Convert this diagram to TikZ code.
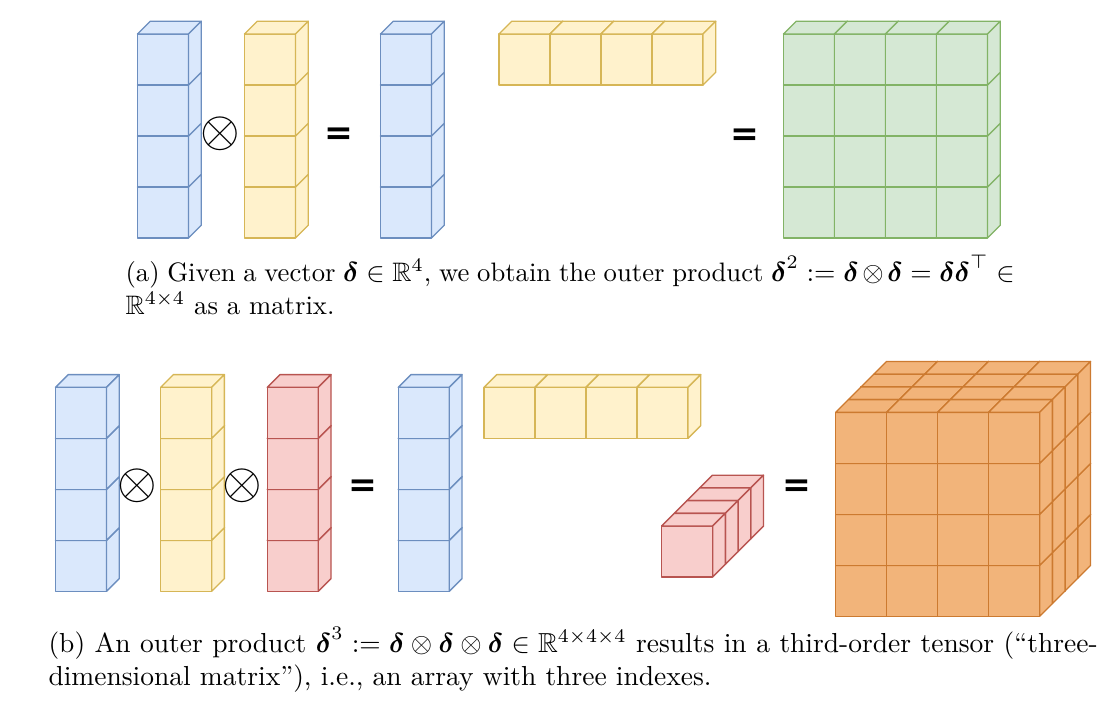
\documentclass[tikz,border=0pt]{standalone}
\usepackage{amsmath,amssymb,amsfonts}
\usepackage{fontspec}
\usepackage{xcolor}
\usepackage{graphicx}
\usepackage{tikz}

\newfontfamily\signfont{DejaVu Sans}

\definecolor{bluefill}{HTML}{DAE8FC}
\definecolor{blueline}{HTML}{6C8EBF}
\definecolor{yellowfill}{HTML}{FFF2CC}
\definecolor{yellowline}{HTML}{D6B656}
\definecolor{greenfill}{HTML}{D5E8D4}
\definecolor{greenline}{HTML}{82B366}
\definecolor{redfill}{HTML}{F8CECC}
\definecolor{redline}{HTML}{B85450}
\definecolor{orangefill}{HTML}{F2B47A}
\definecolor{orangeline}{HTML}{CC7A30}

\newcommand{\cellw}{51}
\newcommand{\celld}{12.7}
% one cube, front top-left corner at (#1,#2)
\newcommand{\onecube}[3]{%
  \filldraw[#3] (#1,#2) rectangle ++(\cellw,\cellw);
  \filldraw[#3] (#1,#2) -- ++(\celld,-\celld) -- ++(\cellw,0) -- ++(-\celld,\celld) -- cycle;
  \filldraw[#3] (#1+\cellw,#2) -- ++(\celld,-\celld) -- ++(0,\cellw) -- ++(-\celld,\celld) -- cycle;
}

\tikzset{
  bluecube/.style={fill=bluefill, draw=blueline, line width=0.5pt, line join=round},
  yellowcube/.style={fill=yellowfill, draw=yellowline, line width=0.5pt, line join=round},
  greencube/.style={fill=greenfill, draw=greenline, line width=0.5pt, line join=round},
  redcube/.style={fill=redfill, draw=redline, line width=0.5pt, line join=round},
  orangecube/.style={fill=orangefill, draw=orangeline, line width=0.5pt, line join=round},
  opsign/.style={inner sep=0pt},
  eqsign/.style={inner sep=0pt, font=\signfont\bfseries\fontsize{12.5}{12.5}\selectfont},
  captext/.style={inner sep=0pt, anchor=base west, align=justify}
}

\begin{document}
\begin{tikzpicture}[x=0.3636pt, y=-0.3636pt]
    \useasboundingbox (0,0) rectangle (1114,712);

    % (a) delta (x) delta = matrix
    \foreach \j in {3,2,1,0} {\onecube{137.5}{34+\j*\cellw}{bluecube}}
    \node[opsign] (timesA) at (220.7,134) {\scalebox{1.85}{$\otimes$}};
    \foreach \j in {3,2,1,0} {\onecube{244.5}{34+\j*\cellw}{yellowcube}}
    \node[eqsign] (eqA1) at (338.5,136) {=};
    \foreach \j in {3,2,1,0} {\onecube{380.5}{34+\j*\cellw}{bluecube}}
    \foreach \i in {0,1,2,3} {\onecube{499+\i*\cellw}{34}{yellowcube}}
    \node[eqsign] (eqA2) at (744.5,137) {=};
    \foreach \j in {3,2,1,0} {
        \foreach \i in {0,1,2,3} {\onecube{783.5+\i*\cellw}{34+\j*\cellw}{greencube}}
    }
    \node[captext, text width=323.3pt, font=\fontsize{9.7}{12}\selectfont] (capA) at (125,281)
        {(a) Given a vector $\boldsymbol{\delta}\in\mathbb{R}^4$, we obtain the outer product
        $\boldsymbol{\delta}^2 := \boldsymbol{\delta}\otimes\boldsymbol{\delta}
        = \boldsymbol{\delta}\boldsymbol{\delta}^\top \in$\linebreak
        $\mathbb{R}^{4\times4}$ as a matrix.};

    % (b) delta (x) delta (x) delta = tensor
    \foreach \j in {3,2,1,0} {\onecube{55.5}{387.3+\j*\cellw}{bluecube}}
    \node[opsign] (timesB1) at (137.7,486) {\scalebox{1.85}{$\otimes$}};
    \foreach \j in {3,2,1,0} {\onecube{160.7}{387.3+\j*\cellw}{yellowcube}}
    \node[opsign] (timesB2) at (242.7,486) {\scalebox{1.85}{$\otimes$}};
    \foreach \j in {3,2,1,0} {\onecube{267.3}{387.3+\j*\cellw}{redcube}}
    \node[eqsign] (eqB1) at (363.3,488) {=};
    \foreach \j in {3,2,1,0} {\onecube{398.3}{387.3+\j*\cellw}{bluecube}}
    \foreach \i in {0,1,2,3} {\onecube{484+\i*\cellw}{387.3}{yellowcube}}
    \foreach \k in {3,2,1,0} {\onecube{661.7+\k*\celld}{526-\k*\celld}{redcube}}
    \node[eqsign] (eqB2) at (796.7,488) {=};
    \foreach \k in {3,2,1,0} {
        \foreach \j in {3,2,1,0} {
            \foreach \i in {0,1,2,3} {\onecube{835.7+\i*\cellw+\k*\celld}{412.3+\j*\cellw-\k*\celld}{orangecube}}
        }
    }
    \node[captext, text width=381.5pt] (capB) at (48,652)
        {(b) An outer product $\boldsymbol{\delta}^3 := \boldsymbol{\delta}\otimes\boldsymbol{\delta}
        \otimes\boldsymbol{\delta}\in\mathbb{R}^{4\times4\times4}$ results in a third-order tensor
        (``three-\linebreak dimensional matrix''), i.e., an array with three indexes.};
\end{tikzpicture}
\end{document}
